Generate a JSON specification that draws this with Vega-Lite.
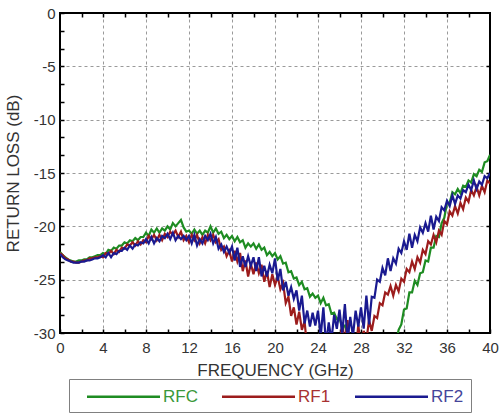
{
"$schema": "https://vega.github.io/schema/vega-lite/v6.json",
"width": 430, "height": 320,
"autosize": "none",
"padding": {"left": 60, "top": 13, "right": 10, "bottom": 82},
"config": {"view": {"stroke": "black", "strokeWidth": 2}, "font": "Liberation Sans"},
"data": {"values": [
{"f":0,"RFC":-22.4,"RF1":-22.5,"RF2":-22.6},
{"f":0.25,"RFC":-22.7,"RF1":-22.7,"RF2":-22.9},
{"f":0.5,"RFC":-22.9,"RF1":-23.0,"RF2":-23.1},
{"f":0.75,"RFC":-23.1,"RF1":-23.1,"RF2":-23.2},
{"f":1,"RFC":-23.2,"RF1":-23.3,"RF2":-23.3},
{"f":1.25,"RFC":-23.3,"RF1":-23.3,"RF2":-23.4},
{"f":1.5,"RFC":-23.3,"RF1":-23.4,"RF2":-23.4},
{"f":1.75,"RFC":-23.2,"RF1":-23.4,"RF2":-23.4},
{"f":2,"RFC":-23.2,"RF1":-23.3,"RF2":-23.3},
{"f":2.25,"RFC":-23.1,"RF1":-23.2,"RF2":-23.3},
{"f":2.5,"RFC":-23.1,"RF1":-23.2,"RF2":-23.2},
{"f":2.75,"RFC":-22.9,"RF1":-23.0,"RF2":-23.2},
{"f":3,"RFC":-22.9,"RF1":-23.0,"RF2":-23.1},
{"f":3.25,"RFC":-22.8,"RF1":-22.9,"RF2":-23.0},
{"f":3.5,"RFC":-22.7,"RF1":-22.9,"RF2":-23.0},
{"f":3.75,"RFC":-22.7,"RF1":-22.8,"RF2":-22.9},
{"f":4,"RFC":-22.5,"RF1":-22.9,"RF2":-22.7},
{"f":4.25,"RFC":-22.6,"RF1":-22.5,"RF2":-22.9},
{"f":4.5,"RFC":-22.2,"RF1":-22.6,"RF2":-22.5},
{"f":4.75,"RFC":-22.3,"RF1":-22.3,"RF2":-22.9},
{"f":5,"RFC":-22.0,"RF1":-22.6,"RF2":-22.5},
{"f":5.25,"RFC":-22.1,"RF1":-22.2,"RF2":-22.6},
{"f":5.5,"RFC":-21.8,"RF1":-22.4,"RF2":-22.3},
{"f":5.75,"RFC":-21.8,"RF1":-22.0,"RF2":-22.3},
{"f":6,"RFC":-21.5,"RF1":-22.1,"RF2":-22.0},
{"f":6.25,"RFC":-21.6,"RF1":-21.7,"RF2":-22.2},
{"f":6.5,"RFC":-21.3,"RF1":-21.8,"RF2":-21.8},
{"f":6.75,"RFC":-21.4,"RF1":-21.5,"RF2":-22.1},
{"f":7,"RFC":-21.1,"RF1":-21.8,"RF2":-21.7},
{"f":7.25,"RFC":-21.3,"RF1":-21.4,"RF2":-21.8},
{"f":7.5,"RFC":-21.0,"RF1":-21.7,"RF2":-21.5},
{"f":7.75,"RFC":-21.0,"RF1":-21.3,"RF2":-21.6},
{"f":8,"RFC":-20.6,"RF1":-21.5,"RF2":-21.2},
{"f":8.25,"RFC":-20.9,"RF1":-20.9,"RF2":-21.6},
{"f":8.5,"RFC":-20.3,"RF1":-21.2,"RF2":-21.0},
{"f":8.75,"RFC":-20.6,"RF1":-20.8,"RF2":-21.6},
{"f":9,"RFC":-20.2,"RF1":-21.3,"RF2":-21.1},
{"f":9.25,"RFC":-20.6,"RF1":-20.8,"RF2":-21.4},
{"f":9.5,"RFC":-20.2,"RF1":-21.3,"RF2":-20.9},
{"f":9.75,"RFC":-20.4,"RF1":-20.7,"RF2":-21.1},
{"f":10,"RFC":-20.0,"RF1":-21.0,"RF2":-20.7},
{"f":10.25,"RFC":-20.3,"RF1":-20.5,"RF2":-21.2},
{"f":10.5,"RFC":-19.7,"RF1":-20.8,"RF2":-20.6},
{"f":10.75,"RFC":-20.0,"RF1":-20.4,"RF2":-21.3},
{"f":11,"RFC":-19.7,"RF1":-21.0,"RF2":-20.9},
{"f":11.25,"RFC":-19.4,"RF1":-20.5,"RF2":-21.2},
{"f":11.5,"RFC":-20.1,"RF1":-21.3,"RF2":-20.9},
{"f":11.75,"RFC":-20.5,"RF1":-20.9,"RF2":-21.3},
{"f":12,"RFC":-20.4,"RF1":-21.5,"RF2":-20.9},
{"f":12.25,"RFC":-20.7,"RF1":-20.8,"RF2":-21.6},
{"f":12.5,"RFC":-20.3,"RF1":-21.3,"RF2":-20.8},
{"f":12.75,"RFC":-20.7,"RF1":-20.8,"RF2":-21.8},
{"f":13,"RFC":-20.4,"RF1":-21.6,"RF2":-21.2},
{"f":13.25,"RFC":-20.8,"RF1":-21.0,"RF2":-21.6},
{"f":13.5,"RFC":-20.4,"RF1":-21.6,"RF2":-20.9},
{"f":13.75,"RFC":-20.6,"RF1":-20.8,"RF2":-21.3},
{"f":14,"RFC":-20.0,"RF1":-21.3,"RF2":-20.7},
{"f":14.25,"RFC":-20.6,"RF1":-20.8,"RF2":-21.6},
{"f":14.5,"RFC":-20.2,"RF1":-21.5,"RF2":-21.0},
{"f":14.75,"RFC":-20.7,"RF1":-21.2,"RF2":-22.1},
{"f":15,"RFC":-20.5,"RF1":-22.2,"RF2":-21.7},
{"f":15.25,"RFC":-21.1,"RF1":-21.9,"RF2":-22.4},
{"f":15.5,"RFC":-20.8,"RF1":-22.8,"RF2":-21.9},
{"f":15.75,"RFC":-21.2,"RF1":-22.3,"RF2":-22.5},
{"f":16,"RFC":-20.9,"RF1":-23.3,"RF2":-21.9},
{"f":16.25,"RFC":-21.4,"RF1":-22.3,"RF2":-23.2},
{"f":16.5,"RFC":-21.0,"RF1":-23.3,"RF2":-22.0},
{"f":16.75,"RFC":-21.5,"RF1":-22.5,"RF2":-23.8},
{"f":17,"RFC":-21.3,"RF1":-24.2,"RF2":-22.8},
{"f":17.25,"RFC":-22.0,"RF1":-23.2,"RF2":-23.8},
{"f":17.5,"RFC":-21.6,"RF1":-24.7,"RF2":-22.8},
{"f":17.75,"RFC":-21.9,"RF1":-23.5,"RF2":-23.7},
{"f":18,"RFC":-21.6,"RF1":-24.5,"RF2":-22.9},
{"f":18.25,"RFC":-22.1,"RF1":-23.4,"RF2":-24.2},
{"f":18.5,"RFC":-21.7,"RF1":-24.4,"RF2":-22.9},
{"f":18.75,"RFC":-22.2,"RF1":-23.6,"RF2":-24.7},
{"f":19,"RFC":-22.0,"RF1":-25.2,"RF2":-23.7},
{"f":19.25,"RFC":-22.7,"RF1":-24.2,"RF2":-24.7},
{"f":19.5,"RFC":-22.4,"RF1":-25.7,"RF2":-23.6},
{"f":19.75,"RFC":-22.8,"RF1":-24.5,"RF2":-24.4},
{"f":20,"RFC":-22.5,"RF1":-25.5,"RF2":-23.0},
{"f":20.25,"RFC":-23.1,"RF1":-24.7,"RF2":-25.1},
{"f":20.5,"RFC":-22.8,"RF1":-25.9,"RF2":-24.0},
{"f":20.75,"RFC":-23.5,"RF1":-25.3,"RF2":-26.0},
{"f":21,"RFC":-23.4,"RF1":-27.2,"RF2":-25.2},
{"f":21.25,"RFC":-24.3,"RF1":-26.6,"RF2":-26.5},
{"f":21.5,"RFC":-24.2,"RF1":-28.4,"RF2":-25.7},
{"f":21.75,"RFC":-24.9,"RF1":-27.6,"RF2":-26.8},
{"f":22,"RFC":-24.8,"RF1":-29.2,"RF2":-26.0},
{"f":22.25,"RFC":-25.5,"RF1":-28.0,"RF2":-27.9},
{"f":22.5,"RFC":-25.2,"RF1":-29.7,"RF2":-26.5},
{"f":22.75,"RFC":-25.9,"RF1":-28.9,"RF2":-29.1},
{"f":23,"RFC":-25.8,"RF1":-31.5,"RF2":-27.9},
{"f":23.25,"RFC":-26.6,"RF1":-30.1,"RF2":-29.4},
{"f":23.5,"RFC":-26.3,"RF1":-32.0,"RF2":-28.1},
{"f":23.75,"RFC":-26.7,"RF1":-30.3,"RF2":-29.3},
{"f":24,"RFC":-26.5,"RF1":-31.7,"RF2":-27.9},
{"f":24.25,"RFC":-27.2,"RF1":-30.0,"RF2":-30.3},
{"f":24.5,"RFC":-26.7,"RF1":-31.2,"RF2":-27.6},
{"f":24.75,"RFC":-27.4,"RF1":-29.9,"RF2":-31.1},
{"f":25,"RFC":-27.3,"RF1":-32.0,"RF2":-29.0},
{"f":25.25,"RFC":-28.2,"RF1":-30.5,"RF2":-30.7},
{"f":25.5,"RFC":-28.1,"RF1":-32.1,"RF2":-28.3},
{"f":25.75,"RFC":-28.7,"RF1":-30.3,"RF2":-29.6},
{"f":26,"RFC":-28.6,"RF1":-31.5,"RF2":-27.8},
{"f":26.25,"RFC":-29.5,"RF1":-29.0,"RF2":-30.1},
{"f":26.5,"RFC":-29.3,"RF1":-31.0,"RF2":-27.3},
{"f":26.75,"RFC":-30.2,"RF1":-28.8,"RF2":-30.7},
{"f":27,"RFC":-30.3,"RF1":-31.8,"RF2":-28.5},
{"f":27.25,"RFC":-31.0,"RF1":-30.4,"RF2":-30.3},
{"f":27.5,"RFC":-30.7,"RF1":-32.1,"RF2":-27.9},
{"f":27.75,"RFC":-31.1,"RF1":-29.2,"RF2":-29.4},
{"f":28,"RFC":-30.8,"RF1":-31.7,"RF2":-27.6},
{"f":28.25,"RFC":-31.4,"RF1":-29.8,"RF2":-29.6},
{"f":28.5,"RFC":-30.9,"RF1":-30.7,"RF2":-26.5},
{"f":28.75,"RFC":-31.5,"RF1":-28.8,"RF2":-29.2},
{"f":29,"RFC":-31.3,"RF1":-29.8,"RF2":-26.6},
{"f":29.25,"RFC":-32.0,"RF1":-28.4,"RF2":-26.7},
{"f":29.5,"RFC":-31.7,"RF1":-28.6,"RF2":-25.0},
{"f":29.75,"RFC":-32.0,"RF1":-27.2,"RF2":-25.2},
{"f":30,"RFC":-31.8,"RF1":-27.4,"RF2":-23.9},
{"f":30.25,"RFC":-32.2,"RF1":-26.2,"RF2":-24.6},
{"f":30.5,"RFC":-31.8,"RF1":-26.4,"RF2":-23.0},
{"f":30.75,"RFC":-31.6,"RF1":-25.6,"RF2":-24.2},
{"f":31,"RFC":-30.7,"RF1":-26.5,"RF2":-23.0},
{"f":31.25,"RFC":-30.9,"RF1":-25.5,"RF2":-23.5},
{"f":31.5,"RFC":-29.7,"RF1":-26.1,"RF2":-22.1},
{"f":31.75,"RFC":-29.2,"RF1":-24.9,"RF2":-22.5},
{"f":32,"RFC":-27.8,"RF1":-25.2,"RF2":-21.4},
{"f":32.25,"RFC":-27.7,"RF1":-24.0,"RF2":-22.2},
{"f":32.5,"RFC":-26.2,"RF1":-24.3,"RF2":-20.7},
{"f":32.75,"RFC":-26.2,"RF1":-23.3,"RF2":-22.0},
{"f":33,"RFC":-25.1,"RF1":-24.0,"RF2":-20.8},
{"f":33.25,"RFC":-25.5,"RF1":-22.9,"RF2":-21.4},
{"f":33.5,"RFC":-24.4,"RF1":-23.4,"RF2":-20.1},
{"f":33.75,"RFC":-24.3,"RF1":-22.2,"RF2":-20.6},
{"f":34,"RFC":-23.2,"RF1":-22.6,"RF2":-19.7},
{"f":34.25,"RFC":-23.3,"RF1":-21.4,"RF2":-20.5},
{"f":34.5,"RFC":-22.0,"RF1":-21.7,"RF2":-19.0},
{"f":34.75,"RFC":-22.0,"RF1":-20.8,"RF2":-20.3},
{"f":35,"RFC":-20.9,"RF1":-21.5,"RF2":-19.1},
{"f":35.25,"RFC":-21.0,"RF1":-20.4,"RF2":-19.5},
{"f":35.5,"RFC":-19.7,"RF1":-20.8,"RF2":-18.2},
{"f":35.75,"RFC":-19.2,"RF1":-19.5,"RF2":-18.5},
{"f":36,"RFC":-17.8,"RF1":-19.8,"RF2":-17.6},
{"f":36.25,"RFC":-17.8,"RF1":-18.6,"RF2":-18.1},
{"f":36.5,"RFC":-16.8,"RF1":-19.0,"RF2":-17.1},
{"f":36.75,"RFC":-17.0,"RF1":-18.1,"RF2":-17.9},
{"f":37,"RFC":-16.5,"RF1":-18.8,"RF2":-17.1},
{"f":37.25,"RFC":-16.9,"RF1":-17.8,"RF2":-17.4},
{"f":37.5,"RFC":-16.2,"RF1":-18.4,"RF2":-16.6},
{"f":37.75,"RFC":-16.3,"RF1":-17.3,"RF2":-16.8},
{"f":38,"RFC":-15.7,"RF1":-17.7,"RF2":-16.1},
{"f":38.25,"RFC":-15.9,"RF1":-16.6,"RF2":-16.6},
{"f":38.5,"RFC":-15.1,"RF1":-17.1,"RF2":-15.7},
{"f":38.75,"RFC":-15.3,"RF1":-16.3,"RF2":-16.5},
{"f":39,"RFC":-14.7,"RF1":-17.1,"RF2":-15.8},
{"f":39.25,"RFC":-14.9,"RF1":-16.2,"RF2":-16.1},
{"f":39.5,"RFC":-14.0,"RF1":-16.8,"RF2":-15.3},
{"f":39.75,"RFC":-13.9,"RF1":-15.7,"RF2":-15.5},
{"f":40,"RFC":-13.3,"RF1":-16.0,"RF2":-15.0}
]},
"transform": [{"fold": ["RFC", "RF1", "RF2"], "as": ["series", "value"]}],
"layer": [
{
"mark": {"type": "line", "clip": true, "strokeWidth": 2.2, "interpolate": "linear"},
"encoding": {
"x": {"field": "f", "type": "quantitative",
"scale": {"domain": [0, 40], "nice": false, "zero": false},
"axis": {"orient": "bottom", "values": [0,2,4,6,8,10,12,14,16,18,20,22,24,26,28,30,32,34,36,38,40],
"labelExpr": "datum.value % 4 === 0 ? datum.label : ''",
"grid": true, "gridDash": [3, 3], "gridColor": "#9a9a9a", "gridWidth": 1,
"gridOpacity": {"condition": {"test": "datum.value % 4 === 0 && datum.value > 0 && datum.value < 40", "value": 1}, "value": 0},
"domain": false, "ticks": true, "tickSize": -4, "tickColor": "black", "tickWidth": 1.5,
"labelFontSize": 15, "labelColor": "#333333", "labelPadding": 11, "labelFlush": false,
"title": "FREQUENCY (GHz)", "titleFontSize": 17, "titleFontWeight": "normal", "titleColor": "#333333", "titlePadding": 7}},
"y": {"field": "value", "type": "quantitative",
"scale": {"domain": [-30, 0], "nice": false, "zero": false},
"axis": {"orient": "left", "values": [-30,-28.3333,-26.6667,-25,-23.3333,-21.6667,-20,-18.3333,-16.6667,-15,-13.3333,-11.6667,-10,-8.3333,-6.6667,-5,-3.3333,-1.6667,0],
"labelExpr": "abs(datum.value - round(datum.value/5)*5) < 0.01 ? '' + round(datum.value) : ''",
"grid": true, "gridDash": [3, 3], "gridColor": "#9a9a9a", "gridWidth": 1,
"gridOpacity": {"condition": {"test": "abs(datum.value - round(datum.value/5)*5) < 0.01 && datum.value > -29.9 && datum.value < -0.1", "value": 1}, "value": 0},
"domain": false, "ticks": true, "tickSize": -4, "tickColor": "black", "tickWidth": 1.5,
"labelFontSize": 15, "labelColor": "#333333", "labelPadding": 9, "labelFlush": false,
"title": "RETURN LOSS (dB)", "titleFontSize": 17, "titleFontWeight": "normal", "titleColor": "#333333", "titlePadding": 11}},
"color": {"field": "series", "type": "nominal",
"scale": {"domain": ["RFC", "RF1", "RF2"], "range": ["#1e8c22", "#9c1c1c", "#1a1a90"]},
"legend": {"orient": "none", "legendX": 9, "legendY": 366, "direction": "horizontal", "title": null,
"symbolType": "M-4,0H4", "symbolSize": 333, "symbolStrokeWidth": 2.5, "symbolOffset": 37,
"labelFontSize": 17, "labelOffset": 29, "columnPadding": 13, "padding": 7,
"labelExpr": "datum.label === 'RF2' ? datum.label + '\u00a0\u00a0\u00a0\u00a0' : datum.label",
"strokeColor": "#808080", "fillColor": "white",
"encode": {"labels": {"update": {"fill": {"signal": "datum.value === 'RFC' ? '#3a983a' : datum.value === 'RF1' ? '#a83232' : '#45459a'"}}}}}}
}
},
{
"mark": {"type": "line", "opacity": 0},
"encoding": {
"x": {"field": "f", "type": "quantitative",
"axis": {"orient": "top", "values": [2,4,6,8,10,12,14,16,18,20,22,24,26,28,30,32,34,36,38], "labels": false, "grid": false, "domain": false, "tickSize": -4, "tickColor": "black", "tickWidth": 1.5, "title": null}},
"y": {"field": "value", "type": "quantitative",
"axis": {"orient": "right", "values": [-25,-20,-15,-10,-5], "labels": false, "grid": false, "domain": false, "tickSize": -4, "tickColor": "black", "tickWidth": 1.5, "title": null}},
"detail": {"field": "series"}
}
}
],
"resolve": {"axis": {"x": "independent", "y": "independent"}}
}
